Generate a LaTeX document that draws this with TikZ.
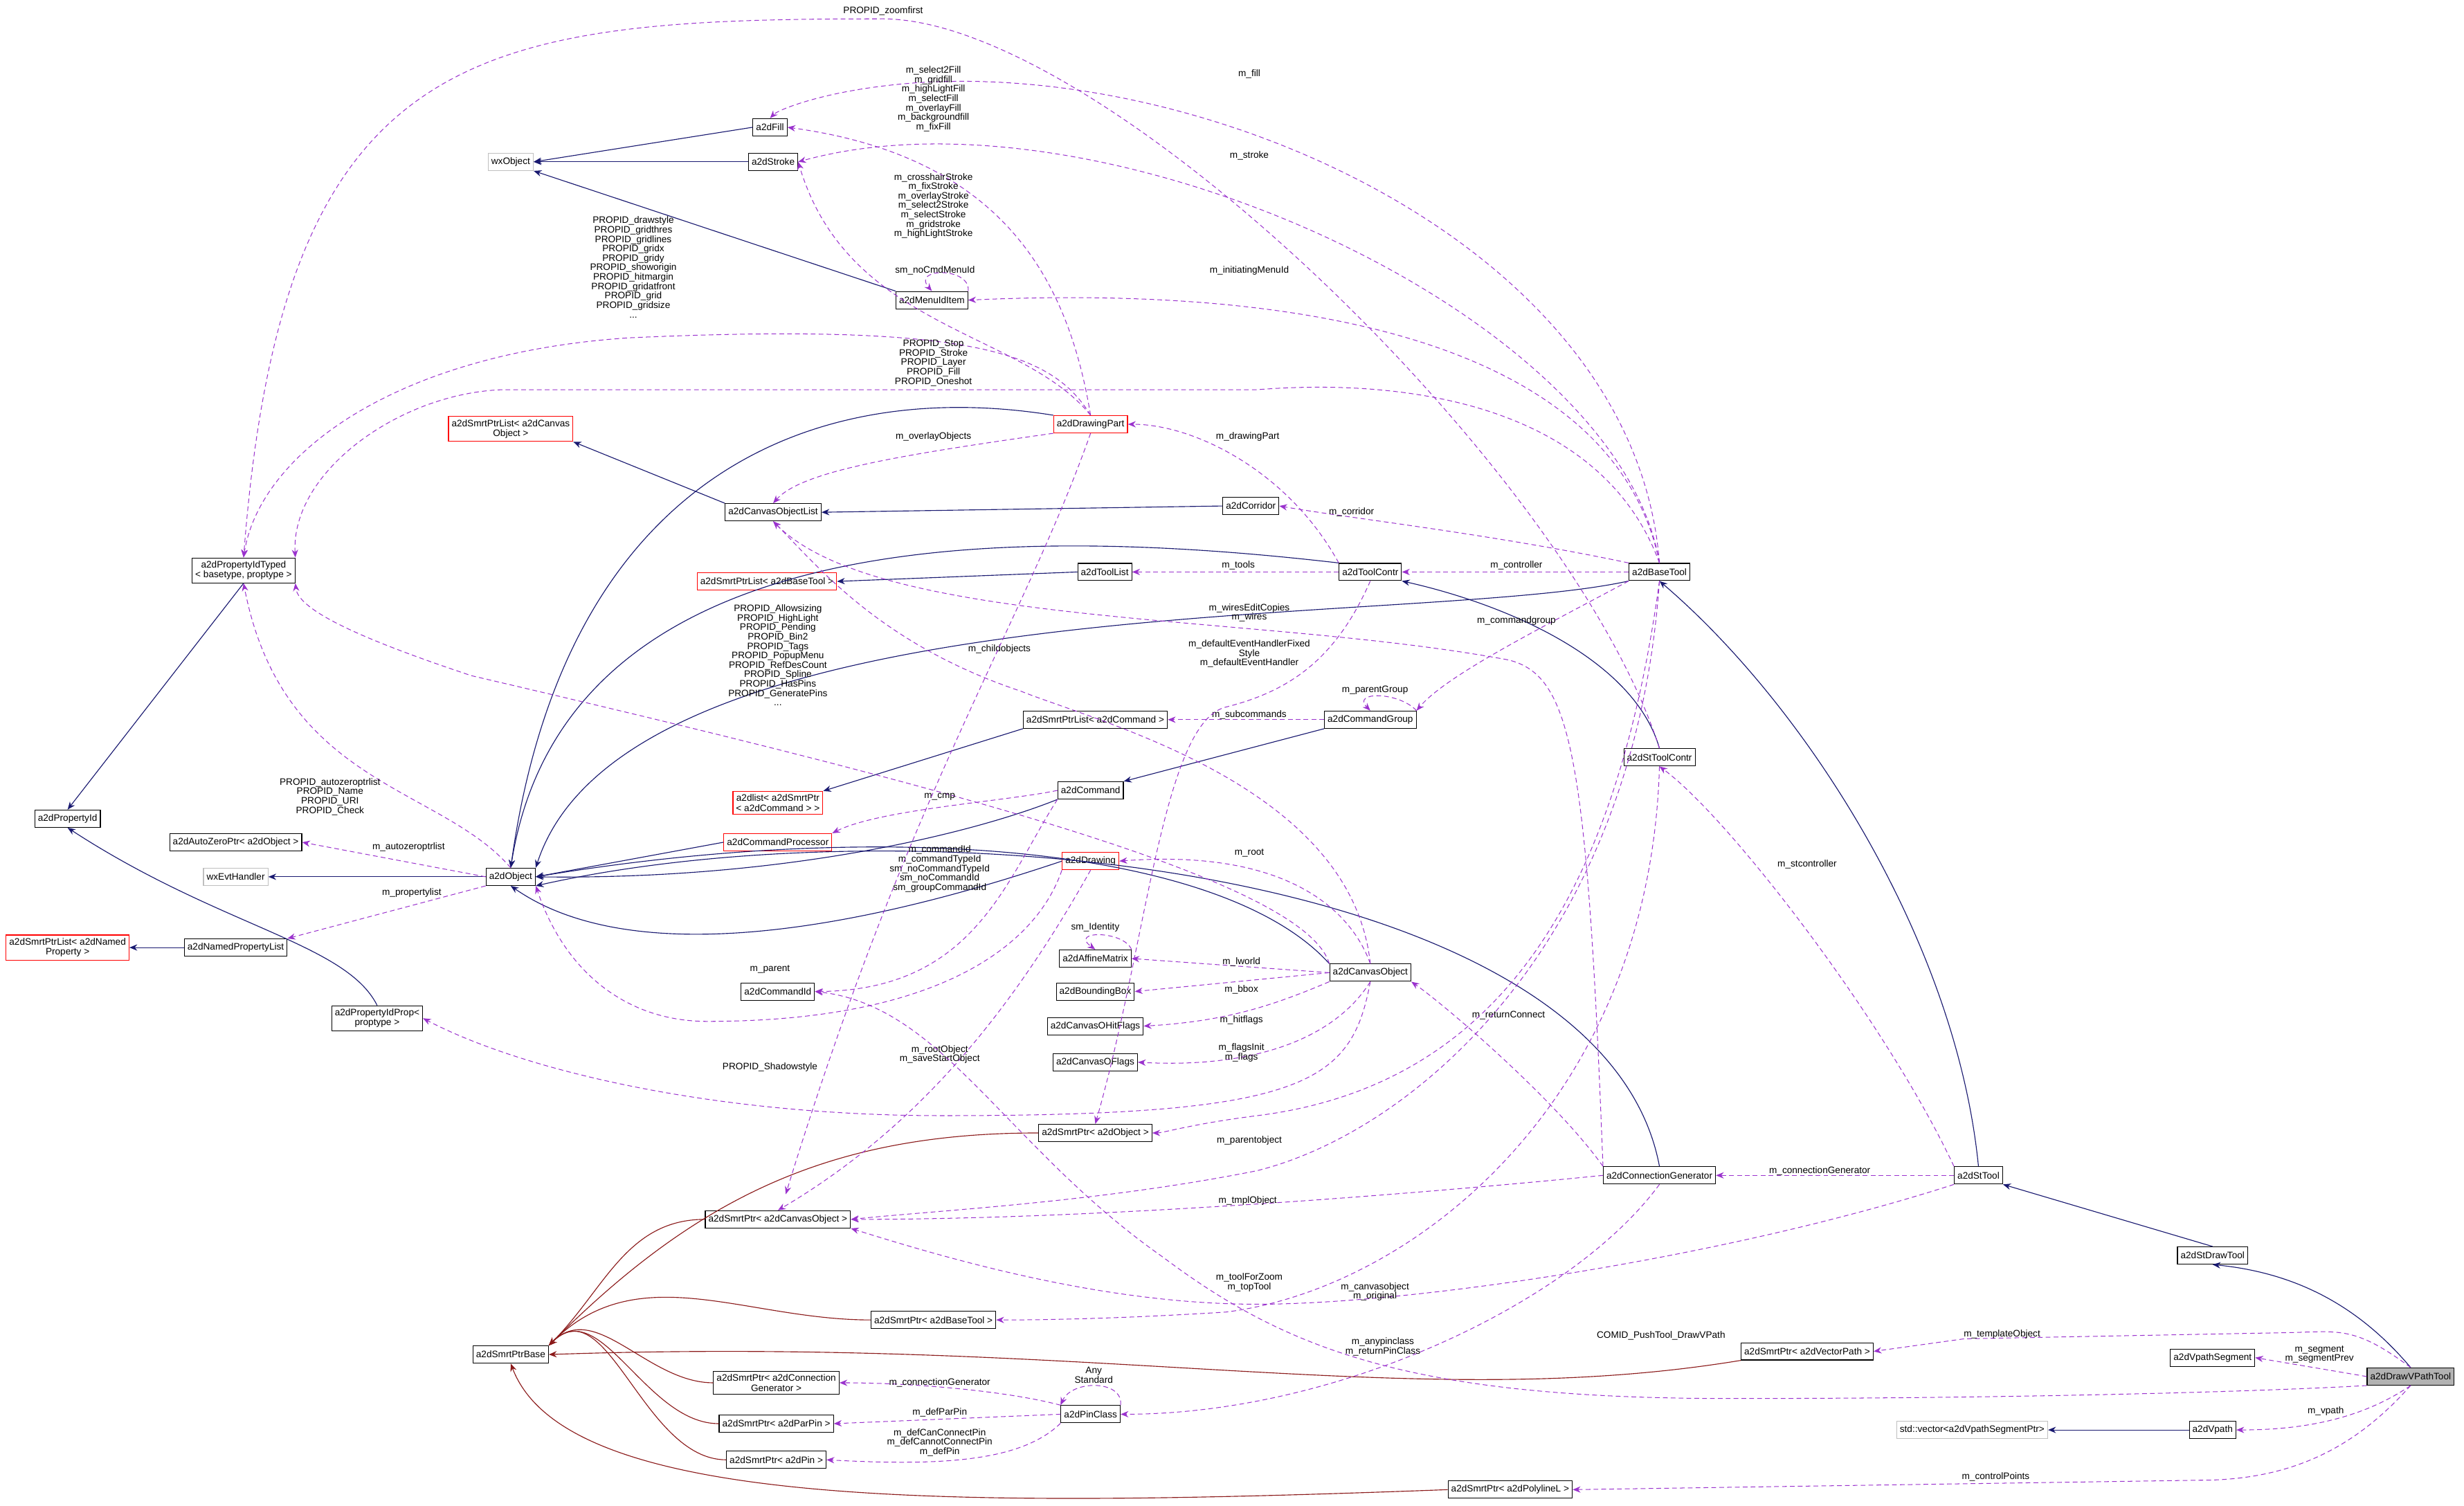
\documentclass[tikz,border=0pt]{standalone}
\usepackage{fontspec}
\setmainfont{Liberation Sans}
\usetikzlibrary{arrows.meta}
\definecolor{inhc}{HTML}{191970}
\definecolor{tplc}{HTML}{8B1A1A}
\definecolor{usec}{HTML}{9A32CD}
\tikzset{
 cls/.style={draw=black,fill=white,font=\fontsize{6}{6.3}\selectfont,inner sep=2pt,minimum height=11pt,align=center,line width=0.5pt},
 rcls/.style={cls,draw=red},
 gcls/.style={cls,draw=black!25},
 inh/.style={draw=inhc,line width=0.5pt,-{Stealth[length=5pt,width=4pt]}},
 tpl/.style={draw=tplc,line width=0.5pt,-{Stealth[length=5pt,width=4pt]}},
 use/.style={draw=usec,dashed,dash pattern=on 3pt off 2pt,line width=0.45pt,-{Stealth[length=5pt,width=4pt]}},
 lbl/.style={font=\fontsize{6}{6}\selectfont,align=center,inner sep=0.5pt}
}
\begin{document}
\begin{tikzpicture}[x=1pt,y=-1pt]
\useasboundingbox (0,0) rectangle (1568,958);
% nodes
\node[gcls] (wx) at (325,103) {wxObject};
\node[cls] (fill) at (490,81) {a2dFill};
\node[cls] (stroke) at (492,103) {a2dStroke};
\node[cls] (menu) at (593,191) {a2dMenuIdItem};
\node[rcls] (dpart) at (694,270) {a2dDrawingPart};
\node[rcls] (splco) at (325,273) {a2dSmrtPtrList< a2dCanvas\\Object >};
\node[cls] (colist) at (492,326) {a2dCanvasObjectList};
\node[cls] (corr) at (796,322) {a2dCorridor};
\node[cls] (tlist) at (703,364) {a2dToolList};
\node[cls] (tcontr) at (872,364) {a2dToolContr};
\node[cls] (btool) at (1056,364) {a2dBaseTool};
\node[cls] (pidt) at (155,363) {a2dPropertyIdTyped\\< basetype, proptype >};
\node[rcls] (splbt) at (488,370) {a2dSmrtPtrList< a2dBaseTool >};
\node[cls] (splcmd) at (697,458) {a2dSmrtPtrList< a2dCommand >};
\node[cls] (cgroup) at (872,458) {a2dCommandGroup};
\node[cls] (sttc) at (1056,482) {a2dStToolContr};
\node[rcls] (alist) at (495,511) {a2dlist< a2dSmrtPtr\\< a2dCommand > >};
\node[cls] (cmd) at (694,503) {a2dCommand};
\node[rcls] (cproc) at (495,536) {a2dCommandProcessor};
\node[cls] (pid) at (43,521) {a2dPropertyId};
\node[cls] (azp) at (150,536) {a2dAutoZeroPtr< a2dObject >};
\node[gcls] (evt) at (150,558) {wxEvtHandler};
\node[cls] (obj) at (325,558) {a2dObject};
\node[rcls] (drw) at (694,548) {a2dDrawing};
\node[rcls] (splnp) at (43,603) {a2dSmrtPtrList< a2dNamed\\Property >};
\node[cls] (npl) at (150,603) {a2dNamedPropertyList};
\node[cls] (pidp) at (240,648) {a2dPropertyIdProp<\\proptype >};
\node[cls] (cid) at (495,631) {a2dCommandId};
\node[cls] (aff) at (697,610) {a2dAffineMatrix};
\node[cls] (bbox) at (697,631) {a2dBoundingBox};
\node[cls] (cobj) at (872,619) {a2dCanvasObject};
\node[cls] (hitf) at (697,653) {a2dCanvasOHitFlags};
\node[cls] (oflags) at (697,676) {a2dCanvasOFlags};
\node[cls] (spobj) at (697,721) {a2dSmrtPtr< a2dObject >};
\node[cls] (cgen) at (1056,748) {a2dConnectionGenerator};
\node[cls] (sttool) at (1259,748) {a2dStTool};
\node[cls] (spco) at (495,776) {a2dSmrtPtr< a2dCanvasObject >};
\node[cls] (stdraw) at (1408,799) {a2dStDrawTool};
\node[cls] (spbt) at (594,840) {a2dSmrtPtr< a2dBaseTool >};
\node[cls] (spbase) at (325,862) {a2dSmrtPtrBase};
\node[cls] (spvp) at (1150,860) {a2dSmrtPtr< a2dVectorPath >};
\node[cls] (vseg) at (1408,864) {a2dVpathSegment};
\node[cls,fill=black!30] (main) at (1534,876) {a2dDrawVPathTool};
\node[cls] (spcg) at (494,880) {a2dSmrtPtr< a2dConnection\\Generator >};
\node[cls] (pinc) at (694,900) {a2dPinClass};
\node[cls] (sppp) at (494,906) {a2dSmrtPtr< a2dParPin >};
\node[cls] (sppin) at (494,929) {a2dSmrtPtr< a2dPin >};
\node[gcls] (stdv) at (1255,910) {std::vector<a2dVpathSegmentPtr>};
\node[cls] (vpath) at (1408,910) {a2dVpath};
\node[cls] (sppl) at (961,948) {a2dSmrtPtr< a2dPolylineL >};

% inheritance
\draw[inh] (fill.west) -- (wx.east);
\draw[inh] (stroke.west) -- (wx.east);
\draw[inh] (menu.north west) -- (wx.south east);
\draw[inh] (colist.north west) -- (splco.south east);
\draw[inh] (corr.west) -- (colist.east);
\draw[inh] (tlist.west) -- (splbt.east);
\draw[inh] (dpart.north west) .. controls (520,240) and (360,300) .. (obj.north);
\draw[inh] (tcontr.north west) .. controls (650,335) and (360,330) .. (obj.north);
\draw[inh] (btool.south west) .. controls (900,400) and (400,370) .. (obj.north east);
\draw[inh] (splcmd.south west) -- (alist.north east);
\draw[inh] (cgroup.south west) -- (cmd.north east);
\draw[inh] (cmd.south west) .. controls (620,530) and (500,560) .. (obj.east);
\draw[inh] (cproc.west) -- (obj.east);
\draw[inh] (sttc.north) .. controls (1040,420) and (960,385) .. (tcontr.south east);
\draw[inh] (obj.west) -- (evt.east);
\draw[inh] (pidt.south) -- (pid.north);
\draw[inh] (pidp.north) .. controls (220,600) and (140,590) .. (pid.south);
\draw[inh] (npl.west) -- (splnp.east);
\draw[inh] (drw.west) .. controls (610,570) and (420,630) .. (obj.south);
\draw[inh] (cobj.north west) .. controls (780,540) and (570,520) .. (obj.east);
\draw[inh] (cgen.north) .. controls (1020,550) and (580,510) .. (obj.south east);
\draw[inh] (sttool.north) .. controls (1245,600) and (1150,450) .. (btool.south);
\draw[inh] (stdraw.north) -- (sttool.south east);
\draw[inh] (main.north) .. controls (1500,830) and (1460,810) .. (stdraw.south);
\draw[inh] (vpath.west) -- (stdv.east);

% template
\foreach \s in {spobj,spco,spbt,spcg,sppp,sppin}
  \draw[tpl] (\s.west) to[out=180,in=45] (spbase.north east);
\draw[tpl] (spvp.south west) .. controls (900,900) and (700,850) .. (spbase.east);
\draw[tpl] (sppl.west) .. controls (600,960) and (360,960) .. (spbase.south);

% usage
\draw[use] (sttc.north) .. controls (1000,300) and (700,10) .. (560,12) .. controls (300,12) and (180,30) .. (pidt.north);
\node[lbl] (l1) at (562,7) {PROPID\_zoomfirst};
\draw[use] (btool.north) .. controls (1040,150) and (750,30) .. (560,55) .. controls (520,60) and (495,70) .. (fill.north);
\node[lbl] (l2) at (795,47) {m\_fill};
\draw[use] (dpart.north) .. controls (680,180) and (640,100) .. (fill.east);
\node[lbl] (l3) at (594,63) {m\_select2Fill\\m\_gridfill\\m\_highLightFill\\m\_selectFill\\m\_overlayFill\\m\_backgroundfill\\m\_fixFill};
\draw[use] (btool.north) .. controls (1030,200) and (700,50) .. (stroke.east);
\node[lbl] (l4) at (795,99) {m\_stroke};
\draw[use] (dpart.north) .. controls (650,210) and (540,210) .. (stroke.east);
\node[lbl] (l5) at (594,131) {m\_crosshairStroke\\m\_fixStroke\\m\_overlayStroke\\m\_select2Stroke\\m\_selectStroke\\m\_gridstroke\\m\_highLightStroke};
\draw[use] (menu.north east) .. controls (618,170) and (580,170) .. (menu.north);
\node[lbl] (l6) at (595,172) {sm\_noCmdMenuId};
\draw[use] (btool.north) .. controls (1030,230) and (860,180) .. (menu.east);
\node[lbl] (l7) at (795,172) {m\_initiatingMenuId};
\draw[use] (dpart.north) .. controls (670,225) and (620,205) .. (400,215) .. controls (250,225) and (165,290) .. (pidt.north);
\node[lbl] (l8) at (403,170) {PROPID\_drawstyle\\PROPID\_gridthres\\PROPID\_gridlines\\PROPID\_gridx\\PROPID\_gridy\\PROPID\_showorigin\\PROPID\_hitmargin\\PROPID\_gridatfront\\PROPID\_grid\\PROPID\_gridsize\\...};
\draw[use] (btool.north) .. controls (1020,260) and (900,240) .. (800,248) -- (320,248) .. controls (255,250) and (185,300) .. (pidt.north east);
\node[lbl] (l9) at (594,231) {PROPID\_Stop\\PROPID\_Stroke\\PROPID\_Layer\\PROPID\_Fill\\PROPID\_Oneshot};
\draw[use] (tcontr.north west) .. controls (820,300) and (760,270) .. (dpart.east);
\node[lbl] (l10) at (794,278) {m\_drawingPart};
\draw[use] (dpart.south west) .. controls (570,290) and (510,300) .. (colist.north);
\node[lbl] (l11) at (594,278) {m\_overlayObjects};
\draw[use] (btool.north west) .. controls (950,340) and (860,330) .. (corr.east);
\node[lbl] (l12) at (860,326) {m\_corridor};
\draw[use] (tcontr.west) -- (tlist.east);
\node[lbl] (l13) at (788,360) {m\_tools};
\draw[use] (btool.west) -- (tcontr.east);
\node[lbl] (l14) at (965,360) {m\_controller};
\draw[use] (cgen.north west) .. controls (1010,480) and (1000,430) .. (960,420) .. controls (800,390) and (560,400) .. (colist.south);
\node[lbl] (l15) at (795,390) {m\_wiresEditCopies\\m\_wires};
\draw[use] (cobj.north) .. controls (860,500) and (700,460) .. (650,440) .. controls (560,410) and (520,360) .. (colist.south);
\node[lbl] (l16) at (636,413) {m\_childobjects};
\draw[use] (btool.south west) .. controls (980,400) and (920,430) .. (cgroup.north east);
\node[lbl] (l17) at (965,395) {m\_commandgroup};
\draw[use] (cgroup.north east) .. controls (890,440) and (860,440) .. (cgroup.north);
\node[lbl] (l18) at (875,439) {m\_parentGroup};
\draw[use] (cgroup.west) -- (splcmd.east);
\node[lbl] (l19) at (795,455) {m\_subcommands};
\draw[use] (cobj.north west) .. controls (830,560) and (600,500) .. (300,430) .. controls (240,410) and (190,390) .. (pidt.south east);
\node[lbl] (l20) at (495,417) {PROPID\_Allowsizing\\PROPID\_HighLight\\PROPID\_Pending\\PROPID\_Bin2\\PROPID\_Tags\\PROPID\_PopupMenu\\PROPID\_RefDesCount\\PROPID\_Spline\\PROPID\_HasPins\\PROPID\_GeneratePins\\...};
\draw[use] (tcontr.south) .. controls (850,420) and (820,440) .. (780,450) .. controls (740,460) and (730,600) .. (spobj.north);
\node[lbl] (l21) at (795,416) {m\_defaultEventHandlerFixed\\Style\\m\_defaultEventHandler};
\draw[use] (obj.north) .. controls (280,500) and (180,500) .. (pidt.south);
\node[lbl] (l22) at (210,507) {PROPID\_autozeroptrlist\\PROPID\_Name\\PROPID\_URI\\PROPID\_Check};
\draw[use] (obj.west) -- (azp.east);
\node[lbl] (l23) at (260,539) {m\_autozeroptrlist};
\draw[use] (obj.south west) -- (npl.north east);
\node[lbl] (l24) at (262,568) {m\_propertylist};
\draw[use] (cmd.west) .. controls (640,510) and (560,515) .. (cproc.north east);
\node[lbl] (l25) at (598,507) {m\_cmp};
\draw[use] (cmd.south west) .. controls (640,560) and (620,630) .. (cid.east);
\node[lbl] (l26) at (598,553) {m\_commandId\\m\_commandTypeId\\sm\_noCommandTypeId\\sm\_noCommandId\\sm\_groupCommandId};
\draw[use] (cobj.north) .. controls (860,580) and (820,540) .. (drw.east);
\node[lbl] (l27) at (795,543) {m\_root};
\draw[use] (drw.south west) .. controls (660,600) and (600,650) .. (450,650) .. controls (400,650) and (360,620) .. (obj.south east);
\node[lbl] (l28) at (490,617) {m\_parent};
\draw[use] (aff.north east) .. controls (715,592) and (680,592) .. (aff.north);
\node[lbl] (l29) at (697,590) {sm\_Identity};
\draw[use] (cobj.west) -- (aff.east);
\node[lbl] (l30) at (790,612) {m\_lworld};
\draw[use] (cobj.west) -- (bbox.east);
\node[lbl] (l31) at (790,630) {m\_bbox};
\draw[use] (cobj.south west) .. controls (810,640) and (780,650) .. (hitf.east);
\node[lbl] (l32) at (790,649) {m\_hitflags};
\draw[use] (cobj.south) .. controls (850,660) and (800,680) .. (oflags.east);
\node[lbl] (l33) at (790,670) {m\_flagsInit\\m\_flags};
\draw[use] (cobj.south) .. controls (860,690) and (830,710) .. (600,710) .. controls (450,710) and (330,680) .. (pidp.east);
\node[lbl] (l34) at (490,679) {PROPID\_Shadowstyle};
\draw[use] (cgen.north west) .. controls (990,700) and (920,640) .. (cobj.south east);
\node[lbl] (l35) at (960,646) {m\_returnConnect};
\draw[use] (btool.south) .. controls (1030,560) and (960,690) .. (800,710) .. controls (760,715) and (740,721) .. (spobj.east);
\node[lbl] (l36) at (795,726) {m\_parentobject};
\draw[use] (dpart.south) .. controls (650,400) and (580,500) .. (500,760);
\draw[use] (drw.south) .. controls (640,650) and (580,720) .. (spco.north);
\node[lbl] (l37) at (598,671) {m\_rootObject\\m\_saveStartObject};
\draw[use] (cgen.west) .. controls (900,760) and (700,776) .. (spco.east);
\node[lbl] (l38) at (794,764) {m\_tmplObject};
\draw[use] (btool.south) .. controls (1040,600) and (900,720) .. (800,745) .. controls (700,765) and (600,770) .. (spco.east);
\draw[use] (sttool.south west) .. controls (1100,800) and (900,830) .. (800,830) .. controls (700,830) and (600,800) .. (spco.south east);
\node[lbl] (l39) at (875,822) {m\_canvasobject\\m\_original};
\draw[use] (sttc.south) .. controls (1050,700) and (900,820) .. (780,835) .. controls (700,840) and (650,840) .. (spbt.east);
\node[lbl] (l40) at (795,816) {m\_toolForZoom\\m\_topTool};
\draw[use] (sttool.north west) .. controls (1200,650) and (1100,520) .. (sttc.south);
\node[lbl] (l41) at (1150,550) {m\_stcontroller};
\draw[use] (sttool.west) -- (cgen.east);
\node[lbl] (l42) at (1158,745) {m\_connectionGenerator};
\draw[use] (cgen.south) .. controls (1000,830) and (850,900) .. (pinc.east);
\node[lbl] (l43) at (880,857) {m\_anypinclass\\m\_returnPinClass};
\draw[use] (pinc.north east) .. controls (715,878) and (682,878) .. (pinc.north west);
\node[lbl] (l44) at (696,875) {Any\\Standard};
\draw[use] (pinc.north west) .. controls (640,885) and (580,880) .. (spcg.east);
\node[lbl] (l45) at (598,880) {m\_connectionGenerator};
\draw[use] (pinc.west) -- (sppp.east);
\node[lbl] (l46) at (598,899) {m\_defParPin};
\draw[use] (pinc.south west) .. controls (650,930) and (600,933) .. (sppin.east);
\node[lbl] (l47) at (598,918) {m\_defCanConnectPin\\m\_defCannotConnectPin\\m\_defPin};
\draw[use] (main.north) .. controls (1500,845) and (1490,847) .. (1460,848) -- (1250,852) -- (spvp.east);
\node[lbl] (l48) at (1274,849) {m\_templateObject};
\draw[use] (main.west) -- (vseg.east);
\node[lbl] (l49) at (1476,862) {m\_segment\\m\_segmentPrev};
\draw[use] (main.south west) .. controls (1450,885) and (1300,890) .. (1100,890) .. controls (900,890) and (820,860) .. (740,800) .. controls (640,730) and (600,640) .. (cid.east);
\node[lbl] (l50) at (1057,850) {COMID\_PushTool\_DrawVPath};
\draw[use] (main.south) .. controls (1500,905) and (1460,910) .. (vpath.east);
\node[lbl] (l51) at (1480,898) {m\_vpath};
\draw[use] (main.south) .. controls (1500,920) and (1460,942) .. (1400,942) -- (sppl.east);
\node[lbl] (l52) at (1270,940) {m\_controlPoints};
\end{tikzpicture}
\end{document}
